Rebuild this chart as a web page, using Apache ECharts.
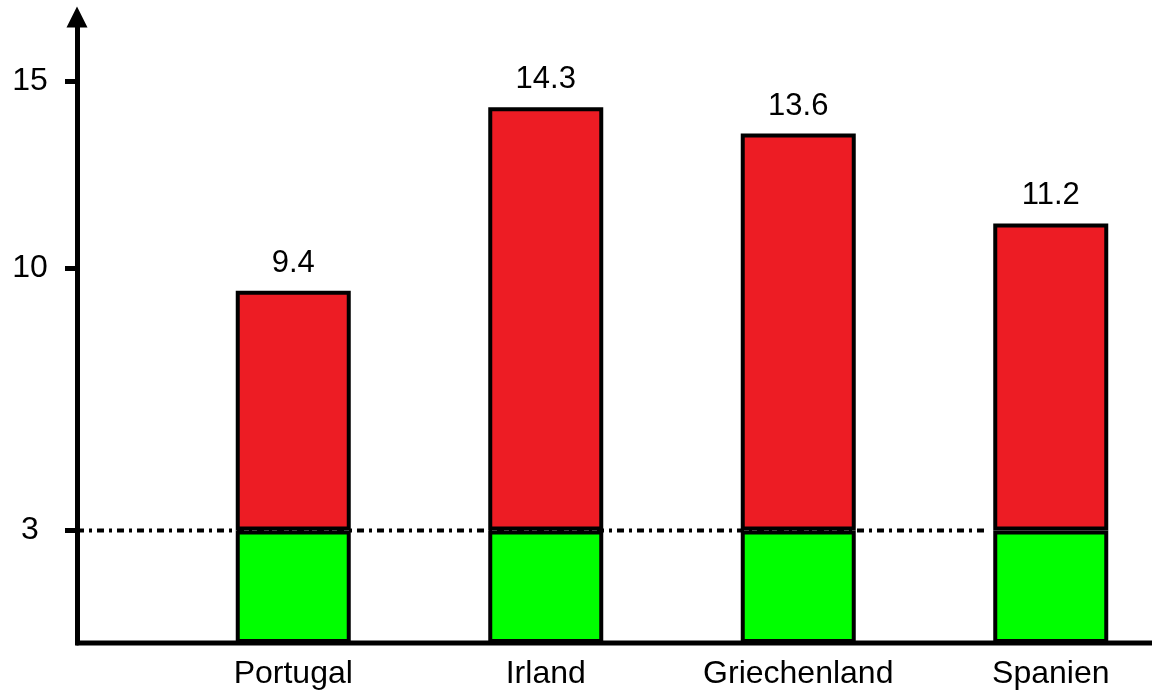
<!DOCTYPE html>
<html>
<head>
  <meta charset="utf-8">
  <title>ECharts</title>
  <script src="https://cdn.jsdelivr.net/npm/echarts@6/dist/echarts.min.js"></script>
  <style>
    html, body { margin: 0; padding: 0; background: #fff; }
  </style>
</head>
<body>
<div id="main" style="width: 1152px;height:698px;"></div>
<script type="text/javascript">
  // data
  var categories = ['Portugal', 'Irland', 'Griechenland', 'Spanien'];
  var totals = [9.4, 14.3, 13.6, 11.2];
  var threshold = 3;
  var yTicks = [3, 10, 15];

  var baseVals = categories.map(function () { return threshold; });
  var restVals = totals.map(function (v) { return +(v - threshold).toFixed(2); });

  var font = 'Liberation Sans, Arial, sans-serif';
  var chart = echarts.init(document.getElementById('main'));

  var gridLeft = 167;
  var axisX = 77;

  var option = {
    animation: false,
    backgroundColor: '#fff',
    grid: {
      left: gridLeft,
      right: -25,
      top: 17,
      bottom: 55,
      containLabel: false,
      outerBoundsMode: 'none'
    },
    xAxis: {
      type: 'category',
      data: categories,
      axisLine: { show: false },
      axisTick: { show: false },
      axisLabel: {
        color: '#000',
        fontSize: 32,
        fontFamily: font,
        margin: 15
      }
    },
    yAxis: {
      type: 'value',
      min: 0,
      max: 16.71,
      offset: gridLeft - axisX,
      splitLine: { show: false },
      axisLine: {
        show: true,
        symbol: ['none', 'triangle'],
        symbolSize: [21, 21],
        lineStyle: { color: '#000', width: 5 }
      },
      axisTick: {
        show: true,
        customValues: yTicks,
        length: 12,
        lineStyle: { color: '#000', width: 5 }
      },
      axisLabel: {
        customValues: yTicks,
        color: '#000',
        fontSize: 32,
        fontFamily: font,
        align: 'center',
        margin: 47
      }
    },
    series: [
      {
        type: 'bar',
        stack: 'total',
        barWidth: 115,
        z: 3,
        data: baseVals,
        itemStyle: { color: '#00ff00', borderColor: '#000', borderWidth: 4 }
      },
      {
        type: 'bar',
        stack: 'total',
        barWidth: 115,
        z: 3,
        data: restVals,
        itemStyle: { color: '#ed1c24', borderColor: '#000', borderWidth: 4 },
        label: {
          show: true,
          position: 'top',
          distance: 12,
          color: '#000',
          fontSize: 31,
          fontFamily: font,
          formatter: function (p) { return totals[p.dataIndex].toFixed(1); }
        }
      }
    ]
  };

  chart.setOption(option);

  // baseline and dotted threshold line reach past the grid to the y axis
  var y0 = chart.convertToPixel({ yAxisIndex: 0 }, 0);
  var y3 = chart.convertToPixel({ yAxisIndex: 0 }, threshold);
  chart.setOption({
    graphic: [
      {
        type: 'line',
        z: 1,
        shape: { x1: axisX, y1: y3, x2: 985, y2: y3 },
        style: { stroke: '#000', lineWidth: 4, lineDash: [7, 5, 3, 5] }
      },
      {
        type: 'line',
        z: 10,
        shape: { x1: axisX - 2, y1: y0, x2: 1152, y2: y0 },
        style: { stroke: '#000', lineWidth: 5 }
      }
    ]
  });
</script>
</body>
</html>
